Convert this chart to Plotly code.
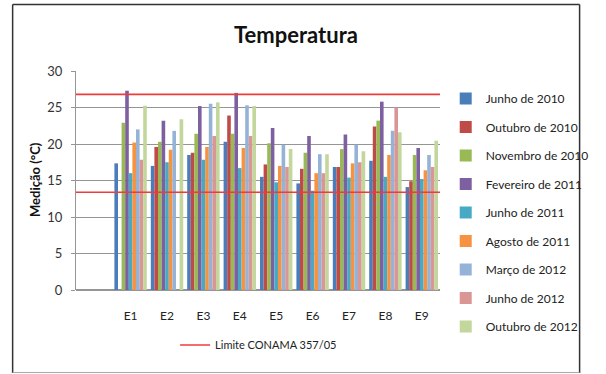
import plotly.graph_objects as go

categories = [" ", "E1", "E2", "E3", "E4", "E5", "E6", "E7", "E8", "E9"]
series_names = ["Junho de 2010", "Outubro de 2010", "Novembro de 2010", "Fevereiro de 2011",
                "Junho de 2011", "Agosto de 2011", "Março de 2012", "Junho de 2012", "Outubro de 2012"]
colors = ["#4A7EBB", "#BE4B48", "#98B954", "#7D60A0", "#46AAC5", "#F69240", "#95B3D7", "#D99694", "#C3D69B"]

junho_2010 = [None, 17.35, 17.0, 18.5, 20.3, 15.5, 14.6, 16.85, 17.7, 14.1]
outubro_2010 = [None, None, 19.6, 18.8, 23.9, 17.2, 16.6, 16.85, 22.4, 14.9]
novembro_2010 = [None, 22.9, 20.3, 21.4, 21.4, 20.1, 18.8, 19.3, 23.2, 18.5]
fevereiro_2011 = [None, 27.3, 23.2, 25.2, 27.0, 22.2, 21.1, 21.3, 25.8, 19.45]
junho_2011 = [None, 16.0, 17.5, 17.85, 16.7, 14.75, 13.6, 15.4, 15.5, 15.2]
agosto_2011 = [None, 20.2, 19.2, 19.6, 19.45, 17.0, 16.0, 17.35, 18.5, 16.4]
marco_2012 = [None, 22.0, 21.8, 25.5, 25.3, 19.9, 18.6, 19.9, 21.8, 18.5]
junho_2012 = [None, 17.85, None, 21.1, 21.1, 16.85, 16.0, 17.5, 25.0, 16.85]
outubro_2012 = [None, 25.25, 23.4, 25.7, 25.2, 19.3, 18.6, 19.0, 21.6, 20.45]
series_values = [junho_2010, outubro_2010, novembro_2010, fevereiro_2011, junho_2011,
                 agosto_2011, marco_2012, junho_2012, outubro_2012]

limit_name = "Limite CONAMA 357/05"
limit_upper = 26.8
limit_lower = 13.4

yticks = [0, 5, 10, 15, 20, 25, 30]

FONT = "Lato"
fig = go.Figure()
for i, (name, vals, col) in enumerate(zip(series_names, series_values, colors)):
    fig.add_trace(go.Bar(x=categories, y=vals, name=name, marker=dict(color=col, line=dict(width=0)),
                         legendgroup="g%d" % i, legend="legend"))

fig.add_trace(go.Scatter(x=[0, 1, None, 0, 1], y=[limit_upper, limit_upper, None, limit_lower, limit_lower],
                         mode="lines", line=dict(color="#EE3B3B", width=1.6), name=limit_name,
                         xaxis="x2", yaxis="y", legend="legend2", connectgaps=False))

# plot area geometry
L, R, T, B = 76, 148, 71, 84
W, H = 606, 374
pw, ph = W - L - R, H - T - B

def px2x(px):
    return (px - L) / pw

def py2y(py):
    return (H - B - py) / ph

fig.update_layout(
    width=W, height=H,
    margin=dict(l=L, r=R, t=T, b=B),
    paper_bgcolor="white", plot_bgcolor="white",
    barmode="group", bargap=0.11, bargroupgap=0,
    font=dict(family=FONT, size=12, color="#222"),
    showlegend=True,
    xaxis=dict(type="category", categoryorder="array", categoryarray=categories,
               range=[-0.5, 9.5], showgrid=False, showline=False, ticks="",
               ticklabelstandoff=17, tickfont=dict(size=12, color="#222"), zeroline=False),
    xaxis2=dict(overlaying="x", range=[0, 1], visible=False, showgrid=False),
    yaxis=dict(range=[0, 30], tickvals=yticks, showgrid=True, gridcolor="#959595", gridwidth=1,
               showline=True, linecolor="#959595", linewidth=1, ticks="outside", ticklen=4,
               tickcolor="#959595", ticklabelstandoff=6, zeroline=True, zerolinecolor="#959595",
               tickfont=dict(size=13, color="#333")),
    legend=dict(x=px2x(464), y=py2y(84), xanchor="left", yanchor="top", tracegroupgap=9.5,
                itemwidth=30, maxheight=320, font=dict(size=12, color="#222"), bgcolor="rgba(0,0,0,0)"),
    legend2=dict(x=px2x(180), y=py2y(345), xanchor="left", yanchor="middle", orientation="h",
                 itemwidth=30, font=dict(size=11, color="#222"), bgcolor="rgba(0,0,0,0)"),
    annotations=[
        dict(text="<b>Temperatura</b>", x=px2x(307), y=py2y(34), xref="paper", yref="paper",
             showarrow=False, font=dict(size=22, color="#111", family=FONT), xanchor="center", yanchor="middle"),
        dict(text="<b>Medição (°C)</b>", x=px2x(33), y=py2y(180), xref="paper", yref="paper",
             showarrow=False, textangle=-90, font=dict(size=13, color="#111", family=FONT),
             xanchor="center", yanchor="middle"),
    ],
    shapes=[
        dict(type="line", xref="paper", yref="paper", x0=px2x(9.5), x1=px2x(604.5), y0=py2y(4.5), y1=py2y(4.5),
             line=dict(color="#333", width=1.5)),
        dict(type="line", xref="paper", yref="paper", x0=px2x(9.5), x1=px2x(9.5), y0=py2y(4.5), y1=py2y(373),
             line=dict(color="#333", width=1.5)),
        dict(type="line", xref="paper", yref="paper", x0=px2x(604.5), x1=px2x(604.5), y0=py2y(4.5), y1=py2y(373),
             line=dict(color="#333", width=1.5)),
        dict(type="line", xref="paper", yref="paper", x0=px2x(9.5), x1=px2x(604.5), y0=py2y(372.5), y1=py2y(372.5),
             line=dict(color="#AAAAAA", width=1)),
    ],
)

fig.write_html("out.html")
